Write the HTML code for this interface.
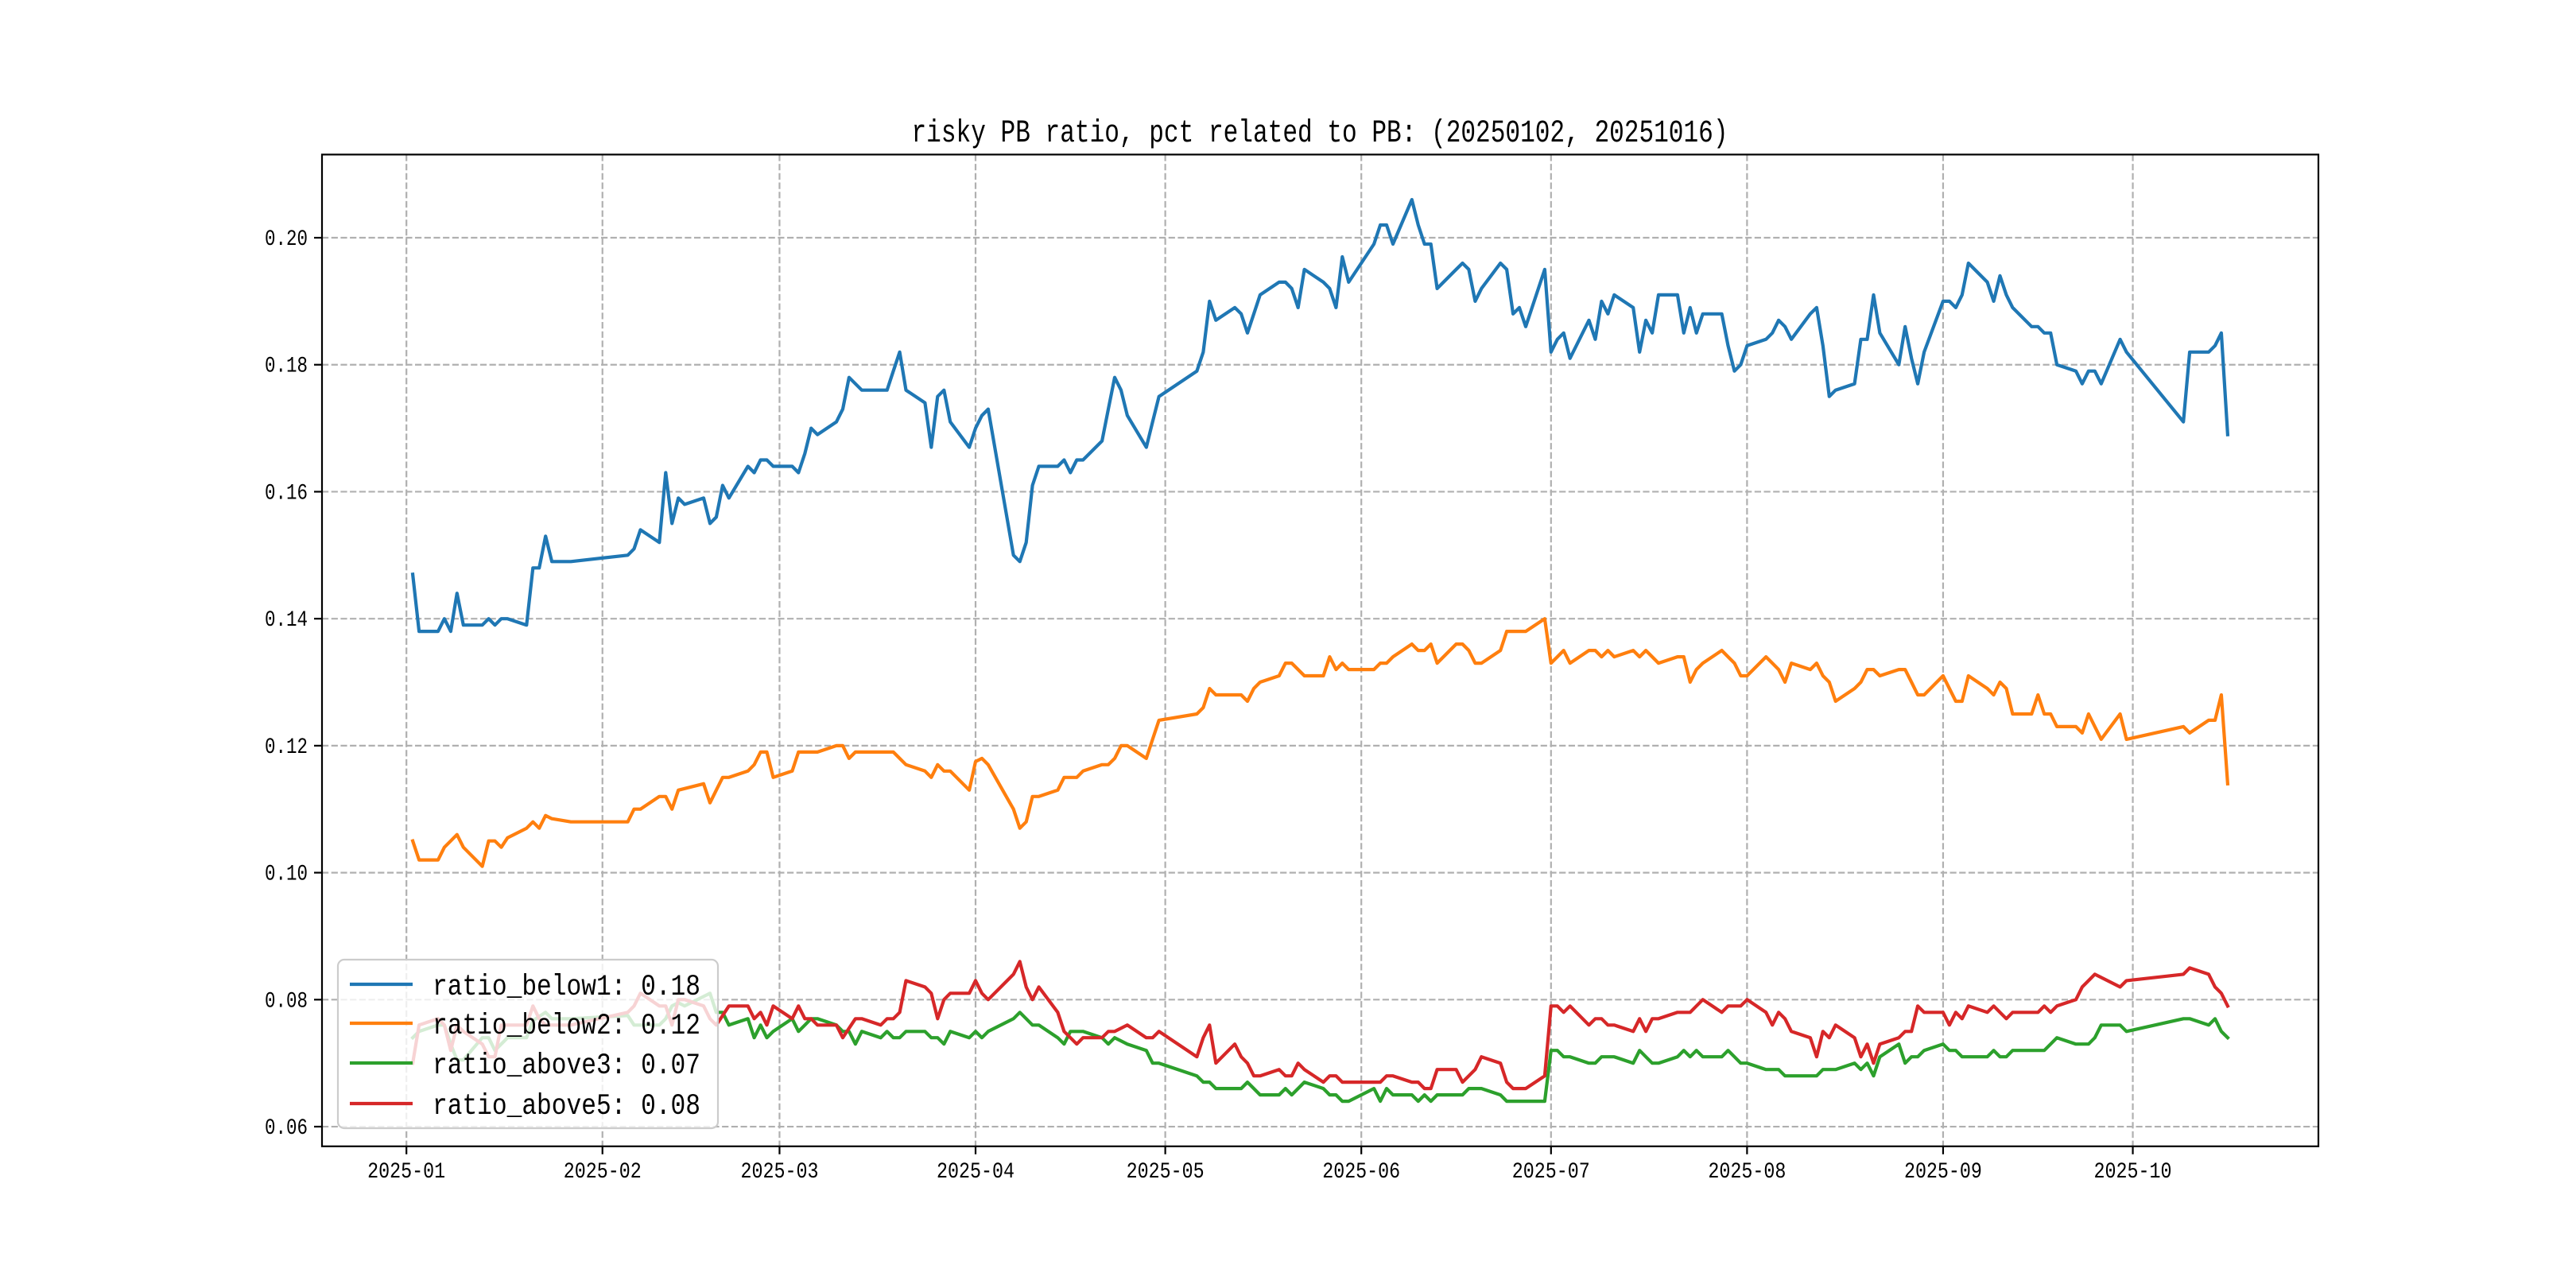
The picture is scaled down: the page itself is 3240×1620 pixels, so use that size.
<!DOCTYPE html>
<html><head><meta charset="utf-8"><title>risky PB ratio</title>
<style>html,body{margin:0;padding:0;background:#fff;}svg{display:block;}</style>
</head><body>
<svg id="chart" xmlns="http://www.w3.org/2000/svg" width="3240" height="1620" viewBox="0 0 3240 1620">
<rect x="0" y="0" width="3240" height="1620" fill="#fff"/>
<g id="grid"></g>
<g id="series"></g>
<g id="axes"></g>
<text x="1660" y="178" text-anchor="middle" font-family="'Liberation Mono', 'Noto Sans CJK SC', monospace" font-size="40" textLength="1027" lengthAdjust="spacingAndGlyphs" fill="#000">risky PB ratio, pct related to PB: (20250102, 20251016)</text>
<g id="legend"></g>
</svg>
<script>
const monthTickLabels = ["2025-01","2025-02","2025-03","2025-04","2025-05","2025-06","2025-07","2025-08","2025-09","2025-10"];
const yTickValues = [0.06,0.08,0.10,0.12,0.14,0.16,0.18,0.20];
const seriesNames = ["ratio_below1: 0.18","ratio_below2: 0.12","ratio_above3: 0.07","ratio_above5: 0.08"];
const seriesColors = ["#1f77b4","#ff7f0e","#2ca02c","#d62728"];

const below1Dates = ["01-02","01-03","01-06","01-07","01-08","01-09","01-10","01-13","01-14","01-15","01-16","01-17","01-20","01-21","01-22","01-23","01-24","01-27","02-05","02-06","02-07","02-10","02-11","02-12","02-13","02-14","02-17","02-18","02-19","02-20","02-21","02-24","02-25","02-26","02-27","02-28","03-03","03-04","03-05","03-06","03-07","03-10","03-11","03-12","03-13","03-14","03-17","03-18","03-19","03-20","03-21","03-24","03-25","03-26","03-27","03-28","03-31","04-01","04-02","04-03","04-07","04-08","04-09","04-10","04-11","04-14","04-15","04-16","04-17","04-18","04-21","04-22","04-23","04-24","04-25","04-28","04-29","04-30","05-06","05-07","05-08","05-09","05-12","05-13","05-14","05-15","05-16","05-19","05-20","05-21","05-22","05-23","05-26","05-27","05-28","05-29","05-30","06-03","06-04","06-05","06-06","06-09","06-10","06-11","06-12","06-13","06-16","06-17","06-18","06-19","06-20","06-23","06-24","06-25","06-26","06-27","06-30","07-01","07-02","07-03","07-04","07-07","07-08","07-09","07-10","07-11","07-14","07-15","07-16","07-17","07-18","07-21","07-22","07-23","07-24","07-25","07-28","07-29","07-30","07-31","08-01","08-04","08-05","08-06","08-07","08-08","08-11","08-12","08-13","08-14","08-15","08-18","08-19","08-20","08-21","08-22","08-25","08-26","08-27","08-28","08-29","09-01","09-02","09-03","09-04","09-05","09-08","09-09","09-10","09-11","09-12","09-15","09-16","09-17","09-18","09-19","09-22","09-23","09-24","09-25","09-26","09-29","09-30","10-09","10-10","10-13","10-14","10-15","10-16"];
const below1Values = [0.147,0.138,0.138,0.140,0.138,0.144,0.139,0.139,0.140,0.139,0.140,0.140,0.139,0.148,0.148,0.153,0.149,0.149,0.150,0.151,0.154,0.152,0.163,0.155,0.159,0.158,0.159,0.155,0.156,0.161,0.159,0.164,0.163,0.165,0.165,0.164,0.164,0.163,0.166,0.170,0.169,0.171,0.173,0.178,0.177,0.176,0.176,0.176,0.179,0.182,0.176,0.174,0.167,0.175,0.176,0.171,0.167,0.170,0.172,0.173,0.150,0.149,0.152,0.161,0.164,0.164,0.165,0.163,0.165,0.165,0.168,0.173,0.178,0.176,0.172,0.167,0.171,0.175,0.179,0.182,0.190,0.187,0.189,0.188,0.185,0.188,0.191,0.193,0.193,0.192,0.189,0.195,0.193,0.192,0.189,0.197,0.193,0.199,0.202,0.202,0.199,0.206,0.202,0.199,0.199,0.192,0.195,0.196,0.195,0.190,0.192,0.196,0.195,0.188,0.189,0.186,0.195,0.182,0.184,0.185,0.181,0.187,0.184,0.190,0.188,0.191,0.189,0.182,0.187,0.185,0.191,0.191,0.185,0.189,0.185,0.188,0.188,0.183,0.179,0.180,0.183,0.184,0.185,0.187,0.186,0.184,0.188,0.189,0.183,0.175,0.176,0.177,0.184,0.184,0.191,0.185,0.180,0.186,0.181,0.177,0.182,0.190,0.190,0.189,0.191,0.196,0.193,0.190,0.194,0.191,0.189,0.186,0.186,0.185,0.185,0.180,0.179,0.177,0.179,0.179,0.177,0.184,0.182,0.171,0.182,0.182,0.183,0.185,0.169];

const below2Dates = ["01-02","01-03","01-06","01-07","01-08","01-09","01-10","01-13","01-14","01-15","01-16","01-17","01-20","01-21","01-22","01-23","01-24","01-27","02-05","02-06","02-07","02-10","02-11","02-12","02-13","02-17","02-18","02-19","02-20","02-21","02-24","02-25","02-26","02-27","02-28","03-03","03-04","03-07","03-10","03-11","03-12","03-13","03-19","03-20","03-21","03-24","03-25","03-26","03-27","03-28","03-31","04-01","04-02","04-03","04-07","04-08","04-09","04-10","04-11","04-14","04-15","04-17","04-18","04-21","04-22","04-23","04-24","04-25","04-28","04-29","04-30","05-06","05-07","05-08","05-09","05-13","05-14","05-15","05-16","05-19","05-20","05-21","05-23","05-26","05-27","05-28","05-29","05-30","06-03","06-04","06-05","06-06","06-09","06-10","06-11","06-12","06-13","06-16","06-17","06-18","06-19","06-20","06-23","06-24","06-27","06-30","07-01","07-02","07-03","07-04","07-07","07-08","07-09","07-10","07-11","07-14","07-15","07-16","07-17","07-18","07-21","07-22","07-23","07-24","07-25","07-28","07-29","07-30","07-31","08-01","08-04","08-05","08-06","08-07","08-08","08-11","08-12","08-13","08-14","08-15","08-18","08-19","08-20","08-21","08-22","08-25","08-26","08-27","08-28","08-29","09-01","09-02","09-03","09-04","09-05","09-08","09-09","09-10","09-11","09-12","09-15","09-16","09-17","09-18","09-19","09-22","09-23","09-24","09-25","09-26","09-29","09-30","10-09","10-10","10-13","10-14","10-15","10-16"];
const below2Values = [0.105,0.102,0.102,0.104,0.105,0.106,0.104,0.101,0.105,0.105,0.104,0.1055,0.107,0.108,0.107,0.109,0.1085,0.108,0.108,0.110,0.110,0.112,0.112,0.110,0.113,0.114,0.111,0.113,0.115,0.115,0.116,0.117,0.119,0.119,0.115,0.116,0.119,0.119,0.120,0.120,0.118,0.119,0.119,0.118,0.117,0.116,0.115,0.117,0.116,0.116,0.113,0.1175,0.118,0.117,0.110,0.107,0.108,0.112,0.112,0.113,0.115,0.115,0.116,0.117,0.117,0.118,0.120,0.120,0.118,0.121,0.124,0.125,0.126,0.129,0.128,0.128,0.127,0.129,0.130,0.131,0.133,0.133,0.131,0.131,0.134,0.132,0.133,0.132,0.132,0.133,0.133,0.134,0.136,0.135,0.135,0.136,0.133,0.136,0.136,0.135,0.133,0.133,0.135,0.138,0.138,0.140,0.133,0.134,0.135,0.133,0.135,0.135,0.134,0.135,0.134,0.135,0.134,0.135,0.134,0.133,0.134,0.134,0.130,0.132,0.133,0.135,0.134,0.133,0.131,0.131,0.134,0.133,0.132,0.130,0.133,0.132,0.133,0.131,0.130,0.127,0.129,0.130,0.132,0.132,0.131,0.132,0.132,0.130,0.128,0.128,0.131,0.129,0.127,0.127,0.131,0.129,0.128,0.130,0.129,0.125,0.125,0.128,0.125,0.125,0.123,0.123,0.122,0.125,0.123,0.121,0.125,0.121,0.123,0.122,0.124,0.124,0.128,0.114];

const above3Dates = ["01-02","01-03","01-06","01-07","01-08","01-09","01-10","01-13","01-14","01-15","01-17","01-20","01-21","01-23","01-24","01-27","02-05","02-06","02-10","02-11","02-12","02-13","02-14","02-18","02-19","02-20","02-21","02-24","02-25","02-26","02-27","02-28","03-03","03-04","03-05","03-06","03-07","03-10","03-11","03-12","03-13","03-14","03-17","03-18","03-19","03-20","03-21","03-24","03-25","03-26","03-27","03-28","03-31","04-01","04-02","04-03","04-07","04-08","04-09","04-10","04-11","04-14","04-15","04-16","04-18","04-21","04-22","04-23","04-24","04-25","04-28","04-29","04-30","05-06","05-07","05-08","05-09","05-12","05-13","05-14","05-15","05-16","05-19","05-20","05-21","05-22","05-23","05-26","05-27","05-28","05-29","05-30","06-03","06-04","06-05","06-06","06-09","06-10","06-11","06-12","06-13","06-16","06-17","06-18","06-19","06-20","06-23","06-24","06-30","07-01","07-02","07-03","07-04","07-07","07-08","07-09","07-10","07-11","07-14","07-15","07-16","07-17","07-18","07-21","07-22","07-23","07-24","07-25","07-28","07-29","07-30","07-31","08-01","08-04","08-05","08-06","08-07","08-08","08-11","08-12","08-13","08-14","08-15","08-18","08-19","08-20","08-21","08-22","08-25","08-26","08-27","08-28","08-29","09-01","09-02","09-03","09-04","09-05","09-08","09-09","09-10","09-11","09-12","09-15","09-16","09-17","09-18","09-19","09-22","09-23","09-24","09-25","09-26","09-29","09-30","10-09","10-10","10-13","10-14","10-15","10-16"];
const above3Values = [0.074,0.075,0.076,0.076,0.073,0.0705,0.0705,0.074,0.074,0.072,0.074,0.074,0.0767,0.078,0.077,0.077,0.0775,0.076,0.076,0.077,0.079,0.0795,0.079,0.081,0.078,0.078,0.076,0.077,0.074,0.076,0.074,0.075,0.077,0.075,0.076,0.077,0.077,0.076,0.075,0.075,0.073,0.075,0.074,0.075,0.074,0.074,0.075,0.075,0.074,0.074,0.073,0.075,0.074,0.075,0.074,0.075,0.077,0.078,0.077,0.076,0.076,0.074,0.073,0.075,0.075,0.074,0.073,0.074,0.0735,0.073,0.072,0.070,0.070,0.068,0.067,0.067,0.066,0.066,0.066,0.067,0.066,0.065,0.065,0.066,0.065,0.066,0.067,0.066,0.065,0.065,0.064,0.064,0.066,0.064,0.066,0.065,0.065,0.064,0.065,0.064,0.065,0.065,0.065,0.066,0.066,0.066,0.065,0.064,0.064,0.072,0.072,0.071,0.071,0.070,0.070,0.071,0.071,0.071,0.070,0.072,0.071,0.070,0.070,0.071,0.072,0.071,0.072,0.071,0.071,0.072,0.071,0.070,0.070,0.069,0.069,0.069,0.068,0.068,0.068,0.068,0.069,0.069,0.069,0.070,0.069,0.070,0.068,0.071,0.073,0.070,0.071,0.071,0.072,0.073,0.072,0.072,0.071,0.071,0.071,0.072,0.071,0.071,0.072,0.072,0.072,0.072,0.073,0.074,0.073,0.073,0.073,0.074,0.076,0.076,0.075,0.077,0.077,0.076,0.077,0.075,0.074];

const above5Dates = ["01-02","01-03","01-06","01-07","01-08","01-09","01-10","01-13","01-14","01-15","01-16","01-17","01-20","01-21","01-22","01-23","01-24","01-27","02-05","02-06","02-07","02-10","02-11","02-12","02-13","02-14","02-17","02-18","02-19","02-20","02-21","02-24","02-25","02-26","02-27","02-28","03-03","03-04","03-05","03-06","03-07","03-10","03-11","03-12","03-13","03-14","03-17","03-18","03-19","03-20","03-21","03-24","03-25","03-26","03-27","03-28","03-31","04-01","04-02","04-03","04-07","04-08","04-09","04-10","04-11","04-14","04-15","04-16","04-17","04-18","04-21","04-22","04-23","04-24","04-25","04-28","04-29","04-30","05-06","05-07","05-08","05-09","05-12","05-13","05-14","05-15","05-16","05-19","05-20","05-21","05-22","05-23","05-26","05-27","05-28","05-29","05-30","06-03","06-04","06-05","06-06","06-09","06-10","06-11","06-12","06-13","06-16","06-17","06-18","06-19","06-20","06-23","06-24","06-25","06-27","06-30","07-01","07-02","07-03","07-04","07-07","07-08","07-09","07-10","07-11","07-14","07-15","07-16","07-17","07-18","07-21","07-22","07-23","07-24","07-25","07-28","07-29","07-31","08-01","08-04","08-05","08-06","08-07","08-08","08-11","08-12","08-13","08-14","08-15","08-18","08-19","08-20","08-21","08-22","08-25","08-26","08-27","08-28","08-29","09-01","09-02","09-03","09-04","09-05","09-08","09-09","09-10","09-11","09-12","09-15","09-16","09-17","09-18","09-19","09-22","09-23","09-24","09-25","09-29","09-30","10-09","10-10","10-13","10-14","10-15","10-16"];
const above5Values = [0.070,0.076,0.077,0.076,0.072,0.076,0.075,0.073,0.071,0.071,0.076,0.076,0.076,0.079,0.077,0.076,0.076,0.076,0.078,0.079,0.081,0.079,0.079,0.076,0.080,0.080,0.079,0.077,0.076,0.0775,0.079,0.079,0.077,0.078,0.076,0.079,0.077,0.079,0.077,0.077,0.076,0.076,0.074,0.0755,0.077,0.077,0.076,0.077,0.077,0.078,0.083,0.082,0.081,0.077,0.080,0.081,0.081,0.083,0.081,0.080,0.084,0.086,0.082,0.080,0.082,0.078,0.075,0.074,0.073,0.074,0.074,0.075,0.075,0.0755,0.076,0.074,0.074,0.075,0.071,0.074,0.076,0.070,0.073,0.071,0.070,0.068,0.068,0.069,0.068,0.068,0.070,0.069,0.067,0.068,0.068,0.067,0.067,0.067,0.067,0.068,0.068,0.067,0.067,0.066,0.066,0.069,0.069,0.067,0.068,0.069,0.071,0.070,0.067,0.066,0.066,0.068,0.079,0.079,0.078,0.079,0.076,0.077,0.077,0.076,0.076,0.075,0.077,0.075,0.077,0.077,0.078,0.078,0.078,0.079,0.080,0.078,0.079,0.079,0.080,0.078,0.076,0.078,0.077,0.075,0.074,0.071,0.075,0.074,0.076,0.074,0.071,0.073,0.070,0.073,0.074,0.075,0.075,0.079,0.078,0.078,0.076,0.078,0.077,0.079,0.078,0.079,0.078,0.077,0.078,0.078,0.078,0.079,0.078,0.079,0.080,0.082,0.083,0.084,0.082,0.083,0.084,0.085,0.084,0.082,0.081,0.079];

const seriesDates = [below1Dates, below2Dates, above3Dates, above5Dates];
const seriesValues = [below1Values, below2Values, above3Values, above5Values];

const NS = "http://www.w3.org/2000/svg";
const AX = {l:405, r:2916, t:194.4, b:1441.8};
const cum = [0,31,59,90,120,151,181,212,243,273,304,334];
function dayOf(s){ const m=parseInt(s.slice(0,2),10), d=parseInt(s.slice(3),10); return cum[m-1]+d-1; }
let dmin=Infinity,dmax=-Infinity,vmin=Infinity,vmax=-Infinity;
seriesDates.forEach((ds,i)=>{ ds.forEach(s=>{const d=dayOf(s); dmin=Math.min(dmin,d); dmax=Math.max(dmax,d);});
  seriesValues[i].forEach(v=>{vmin=Math.min(vmin,v); vmax=Math.max(vmax,v);}); });
const dpad=(dmax-dmin)*0.05, vpad=(vmax-vmin)*0.05;
const x0=dmin-dpad, x1=dmax+dpad, y0=vmin-vpad, y1=vmax+vpad;
function xs(d){ return AX.l + (d-x0)/(x1-x0)*(AX.r-AX.l); }
function ys(v){ return AX.b - (v-y0)/(y1-y0)*(AX.b-AX.t); }
function mk(tag, attrs, parent){ const e=document.createElementNS(NS,tag); for(const k in attrs) e.setAttribute(k,attrs[k]); parent.appendChild(e); return e; }

const grid=document.getElementById('grid'), axes=document.getElementById('axes'), ser=document.getElementById('series'), leg=document.getElementById('legend');
const FONT="'Liberation Mono', 'Noto Sans CJK SC', monospace";

monthTickLabels.forEach((lab,i)=>{
  const x=xs(cum[i]);
  const gl=mk('line',{x1:x,x2:x,y1:AX.t,y2:AX.b,stroke:'#b0b0b0','stroke-width':2.2,'stroke-dasharray':'8.2,3.5'},grid);
  
  
  const tk=mk('line',{x1:x,x2:x,y1:AX.b,y2:AX.b+10,stroke:'#000','stroke-width':2.2},axes);
  
  
  const t=mk('text',{x:x,y:AX.b+39,'text-anchor':'middle','font-family':FONT,'font-size':28,textLength:98,lengthAdjust:'spacingAndGlyphs',fill:'#000'},axes);
  t.textContent=lab;
  
  
});
yTickValues.forEach(v=>{
  const y=ys(v);
  const gl=mk('line',{x1:AX.l,x2:AX.r,y1:y,y2:y,stroke:'#b0b0b0','stroke-width':2.2,'stroke-dasharray':'8.2,3.5'},grid);
  
  
  const tk=mk('line',{x1:AX.l-10,x2:AX.l,y1:y,y2:y,stroke:'#000','stroke-width':2.2},axes);
  
  
  const t=mk('text',{x:AX.l-18,y:y+9,'text-anchor':'end','font-family':FONT,'font-size':28,textLength:54,lengthAdjust:'spacingAndGlyphs',fill:'#000'},axes);
  t.textContent=v.toFixed(2);
  
  
});
const frame=mk('rect',{x:AX.l,y:AX.t,width:AX.r-AX.l,height:AX.b-AX.t,fill:'none',stroke:'#000','stroke-width':2.2},axes);



const seriesKeys=['ratio-below1-line','ratio-below2-line','ratio-above3-line','ratio-above5-line'];
seriesDates.forEach((ds,i)=>{
  const pts=ds.map((s,j)=>xs(dayOf(s)).toFixed(1)+','+ys(seriesValues[i][j]).toFixed(1)).join(' ');
  const p=mk('polyline',{points:pts,fill:'none',stroke:seriesColors[i],'stroke-width':4.2,'stroke-linejoin':'round','stroke-linecap':'square'},ser);
  
  
});

const box=mk('rect',{x:425,y:1207,width:478,height:212,rx:8,fill:'#fff','fill-opacity':0.8,stroke:'#cccccc','stroke-width':2.2},leg);


const legY=[1238,1287,1337,1388];
seriesNames.forEach((n,i)=>{
  const g=mk('g',{},leg);
  
  
  mk('line',{x1:440,x2:519,y1:legY[i],y2:legY[i],stroke:seriesColors[i],'stroke-width':4.2},g);
  const t=mk('text',{x:544,y:legY[i]+13,'font-family':FONT,'font-size':37,textLength:337,lengthAdjust:'spacingAndGlyphs',fill:'#000'},g);
  t.textContent=n;
});
</script>
</body></html>
